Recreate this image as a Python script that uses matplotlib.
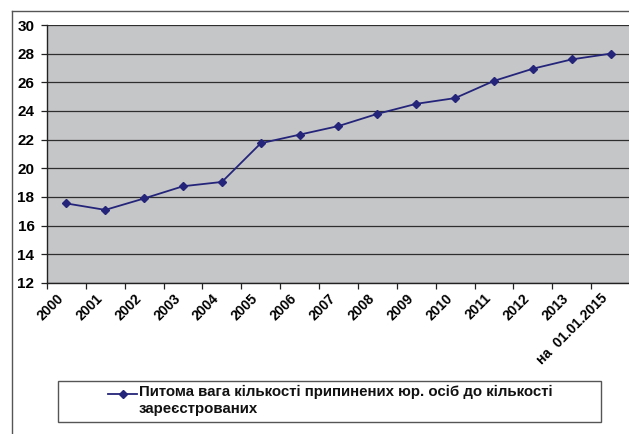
import matplotlib
matplotlib.use("Agg")
import matplotlib.pyplot as plt
from matplotlib.lines import Line2D
from matplotlib.patches import Rectangle
import matplotlib.transforms as mtransforms
import numpy as np

plt.rcParams['font.family'] = ['Liberation Sans', 'DejaVu Sans']

categories = ["2000", "2001", "2002", "2003", "2004", "2005", "2006", "2007",
              "2008", "2009", "2010", "2011", "2012", "2013", "на  01.01.2015"]
values = [17.55, 17.1, 17.9, 18.75, 19.05, 21.75, 22.35, 22.95,
          23.8, 24.5, 24.9, 26.1, 26.95, 27.6, 28.0]
yticks = [12, 14, 16, 18, 20, 22, 24, 26, 28, 30]
series_name = "Питома вага кількості припинених юр. осіб до кількості\nзареєстрованих"

W, H = 629, 434
fig = plt.figure(figsize=(W / 100, H / 100), dpi=100)
fig.patch.set_facecolor('white')

left, right, top, bottom = 47, 630, 25, 283
ax = fig.add_axes([left / W, 1 - bottom / H, (right - left) / W, (bottom - top) / H])
ax.set_facecolor('#c5c6c8')

x = np.arange(len(categories))
line_color = '#24247a'
line, = ax.plot(x, values, color=line_color, lw=1.3, marker='D', markersize=4.2,
                markerfacecolor=line_color, markeredgecolor=line_color, zorder=3,
                label=series_name)

ax.set_xlim(-0.5, len(categories) - 0.5)
ax.set_ylim(12, 30)
ax.set_yticks(yticks)
ax.set_yticklabels([str(v) for v in yticks], fontsize=11, fontweight='bold')
for v in yticks:
    ax.axhline(v, color='#2e2e2e', lw=0.9, zorder=1)

ax.set_xticks(x)
ax.set_xticklabels(categories, rotation=45, ha='right', fontsize=10, fontweight='bold')
offset = mtransforms.ScaledTranslation(3 / 100, 0, fig.dpi_scale_trans)
for lbl in ax.get_xticklabels():
    lbl.set_transform(lbl.get_transform() + offset)
ax.set_xticks(np.arange(-0.5, len(categories), 1), minor=True)
ax.tick_params(axis='x', which='major', length=0, pad=6)
ax.tick_params(axis='x', which='minor', length=4, width=0.9, color='#222222', direction='out')
ax.tick_params(axis='y', length=4, width=0.9, color='#222222', pad=5, direction='out')

for s in ['top', 'right']:
    ax.spines[s].set_visible(False)
for s in ['left', 'bottom']:
    ax.spines[s].set_color('#222222')
    ax.spines[s].set_linewidth(1.0)

# outer chart frame
fig.add_artist(Line2D([12 / W, 12 / W], [0, 1 - 11 / H], transform=fig.transFigure,
                      color='#555555', lw=1.0))
fig.add_artist(Line2D([12 / W, 1], [1 - 11 / H, 1 - 11 / H], transform=fig.transFigure,
                      color='#555555', lw=1.0))

# legend box (drawn like the spreadsheet legend: key beside the first line)
lx0, lx1, ly0, ly1 = 58, 601, 381, 422
fig.add_artist(Rectangle((lx0 / W, 1 - ly1 / H), (lx1 - lx0) / W, (ly1 - ly0) / H,
                         transform=fig.transFigure, facecolor='white',
                         edgecolor='#555555', lw=1.0))
ky = 1 - 394 / H
fig.add_artist(Line2D([108 / W, 137 / W], [ky, ky], transform=fig.transFigure,
                      color=line_color, lw=1.3))
fig.add_artist(Line2D([122.5 / W], [ky], transform=fig.transFigure, color=line_color,
                      marker='D', markersize=4.2, lw=0))
fig.text(139 / W, 1 - 385 / H, series_name, ha='left', va='top',
         fontsize=10.8, fontweight='bold', linespacing=1.25, color='#111111')

fig.savefig('out.png', dpi=100)
